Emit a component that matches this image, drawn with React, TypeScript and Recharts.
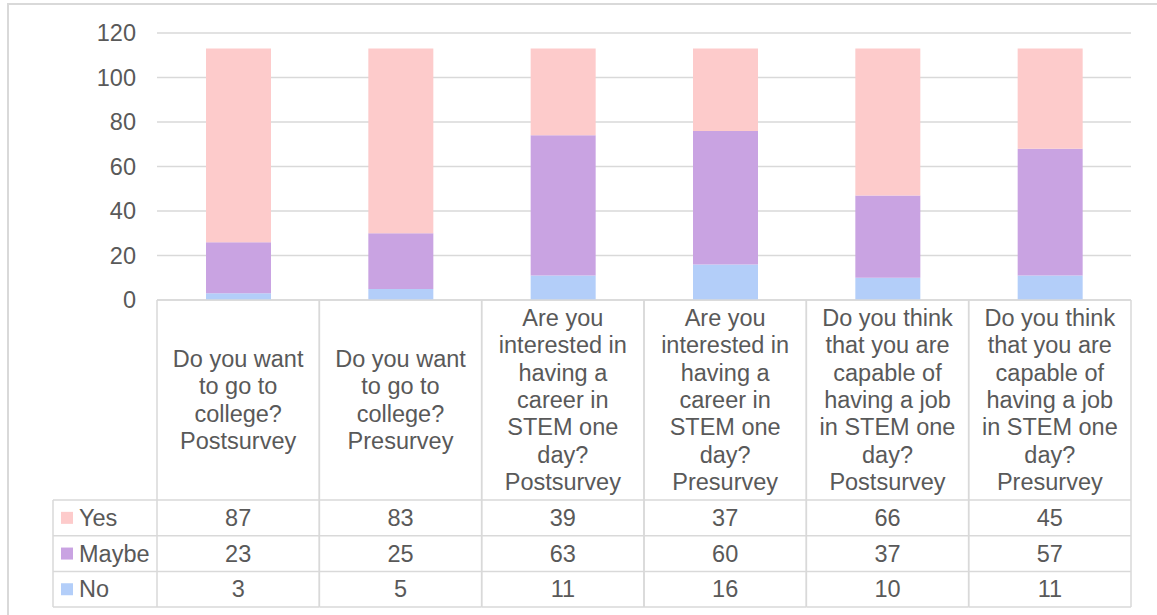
import React from 'react';
import { BarChart, Bar, XAxis, YAxis, CartesianGrid } from 'recharts';

// Survey questions, one entry per column, already broken into lines
const questions: string[][] = [
  ['Do you want', 'to go to', 'college?', 'Postsurvey'],
  ['Do you want', 'to go to', 'college?', 'Presurvey'],
  ['Are you', 'interested in', 'having a', 'career in', 'STEM one', 'day?', 'Postsurvey'],
  ['Are you', 'interested in', 'having a', 'career in', 'STEM one', 'day?', 'Presurvey'],
  ['Do you think', 'that you are', 'capable of', 'having a job', 'in STEM one', 'day?', 'Postsurvey'],
  ['Do you think', 'that you are', 'capable of', 'having a job', 'in STEM one', 'day?', 'Presurvey'],
];

const yes = [87, 83, 39, 37, 66, 45];
const maybe = [23, 25, 63, 60, 37, 57];
const no = [3, 5, 11, 16, 10, 11];

const yTicks = [0, 20, 40, 60, 80, 100, 120];

const series = [
  { key: 'Yes', values: yes, color: '#FDCBCB' },
  { key: 'Maybe', values: maybe, color: '#C9A3E2' },
  { key: 'No', values: no, color: '#B3CEF9' },
];

const data = questions.map((lines, i) => ({
  name: lines.join(' '),
  lines,
  Yes: yes[i],
  Maybe: maybe[i],
  No: no[i],
}));

const WIDTH = 1157;
const HEIGHT = 615;
const MARGIN = { top: 33, right: 26, bottom: 0, left: 97 };
const Y_AXIS_WIDTH = 60;
const PLOT_W = WIDTH - MARGIN.left - MARGIN.right - Y_AXIS_WIDTH;
const CELL_W = PLOT_W / data.length;

const FONT = '"Liberation Sans", Arial, sans-serif';
const TEXT = '#595959';
const LINE = '#D9D9D9';
const FS = 23.5;

// label area + data table rows below the axis
const LABEL_H = 200;
const ROW_H = 35.7;
const LINE_H = 27.3;
const LEGEND_W = 104;

function TableTick(props: any) {
  const { x, y, index } = props;
  const row = data[index];
  const left = x - CELL_W / 2;
  const right = x + CELL_W / 2;
  const tableTop = y + LABEL_H;
  const bottom = tableTop + ROW_H * series.length;
  const mid = y + LABEL_H / 2;
  const first = mid - ((row.lines.length - 1) * LINE_H) / 2;
  const lineProps = { stroke: LINE, strokeWidth: 1.5 };

  return (
    <g fontFamily={FONT} fontSize={FS} fill={TEXT}>
      <line x1={left} y1={y} x2={left} y2={bottom} {...lineProps} />
      <line x1={right} y1={y} x2={right} y2={bottom} {...lineProps} />
      {[0, 1, 2, 3].map((r) => (
        <line key={r} x1={left} y1={tableTop + r * ROW_H} x2={right} y2={tableTop + r * ROW_H} {...lineProps} />
      ))}
      {row.lines.map((t: string, i: number) => (
        <text key={t + i} x={x} y={first + i * LINE_H} textAnchor="middle" dominantBaseline="central">
          {t}
        </text>
      ))}
      {series.map((s, r) => (
        <text key={s.key} x={x} y={tableTop + r * ROW_H + ROW_H / 2} textAnchor="middle" dominantBaseline="central">
          {s.values[index]}
        </text>
      ))}
      {index === 0 && (
        <g>
          <line x1={left - LEGEND_W} y1={tableTop} x2={left - LEGEND_W} y2={bottom} {...lineProps} />
          {[0, 1, 2, 3].map((r) => (
            <line
              key={r}
              x1={left - LEGEND_W}
              y1={tableTop + r * ROW_H}
              x2={left}
              y2={tableTop + r * ROW_H}
              {...lineProps}
            />
          ))}
          {series.map((s, r) => {
            const cy = tableTop + r * ROW_H + ROW_H / 2;
            return (
              <g key={s.key}>
                <rect x={left - LEGEND_W + 8} y={cy - 6} width={12} height={12} fill={s.color} />
                <text x={left - LEGEND_W + 26} y={cy} dominantBaseline="central">
                  {s.key}
                </text>
              </g>
            );
          })}
        </g>
      )}
    </g>
  );
}

export default function App() {
  return (
    <div style={{ position: 'absolute', left: 0, top: 0, width: WIDTH, height: HEIGHT, background: '#fff', overflow: 'hidden' }}>
      <div
        style={{
          position: 'absolute',
          left: 7,
          top: 3,
          width: WIDTH + 20,
          height: HEIGHT + 20,
          border: `2px solid ${LINE}`,
          boxSizing: 'border-box',
        }}
      />
      <BarChart width={WIDTH} height={HEIGHT} data={data} margin={MARGIN} barSize={65} style={{ position: 'absolute', left: 0, top: 0 }}>
        <CartesianGrid vertical={false} stroke={LINE} strokeWidth={1.5} />
        <YAxis
          width={Y_AXIS_WIDTH}
          domain={[0, 120]}
          ticks={yTicks}
          axisLine={false}
          tickLine={false}
          tickSize={0}
          tickMargin={21}
          tick={{ fill: TEXT, fontSize: FS, fontFamily: FONT }}
        />
        <XAxis
          dataKey="name"
          height={HEIGHT - 300}
          interval={0}
          tickLine={false}
          tickSize={0}
          tickMargin={0}
          axisLine={{ stroke: LINE, strokeWidth: 1.5 }}
          tick={<TableTick />}
        />
        <Bar dataKey="No" stackId="a" fill="#B3CEF9" isAnimationActive={false} />
        <Bar dataKey="Maybe" stackId="a" fill="#C9A3E2" isAnimationActive={false} />
        <Bar dataKey="Yes" stackId="a" fill="#FDCBCB" isAnimationActive={false} />
      </BarChart>
    </div>
  );
}
